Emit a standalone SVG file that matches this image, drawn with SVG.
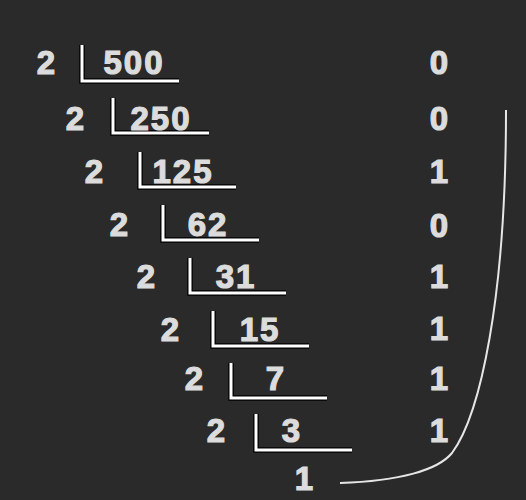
<svg xmlns="http://www.w3.org/2000/svg" width="526" height="500" viewBox="0 0 526 500">
<style>
.t{font-family:"Liberation Sans",Arial,sans-serif;font-weight:bold;font-size:33px;fill:#dcdcdc;stroke:#dcdcdc;stroke-width:1.2;text-anchor:middle;letter-spacing:2px}
.bo{fill:none;stroke:#000;stroke-width:5.5}
.bw{fill:none;stroke:#fff;stroke-width:3}
</style>
<rect width="526" height="500" fill="#2a2a2a"/>
<g id="row1"><text class="t" x="47" y="74">2</text><polyline class="bo" points="82,45 82,81 179,81"/><polyline class="bw" points="82,45 82,81 179,81"/><text class="t" x="134" y="74">500</text><text class="t" x="440" y="74">0</text></g>
<g id="row2"><text class="t" x="76" y="130">2</text><polyline class="bo" points="113,98 113,133 209,133"/><polyline class="bw" points="113,98 113,133 209,133"/><text class="t" x="161" y="130">250</text><text class="t" x="440" y="130">0</text></g>
<g id="row3"><text class="t" x="95" y="183">2</text><polyline class="bo" points="140,152 140,187 236,187"/><polyline class="bw" points="140,152 140,187 236,187"/><text class="t" x="183" y="183">125</text><text class="t" x="440" y="183">1</text></g>
<g id="row4"><text class="t" x="120" y="236">2</text><polyline class="bo" points="163,205 163,240 259,240"/><polyline class="bw" points="163,205 163,240 259,240"/><text class="t" x="208" y="236">62</text><text class="t" x="440" y="237">0</text></g>
<g id="row5"><text class="t" x="147" y="288">2</text><polyline class="bo" points="190,258 190,293 286,293"/><polyline class="bw" points="190,258 190,293 286,293"/><text class="t" x="236" y="288">31</text><text class="t" x="440" y="288">1</text></g>
<g id="row6"><text class="t" x="171" y="341">2</text><polyline class="bo" points="213,311 213,346 309,346"/><polyline class="bw" points="213,311 213,346 309,346"/><text class="t" x="260" y="341">15</text><text class="t" x="440" y="340">1</text></g>
<g id="row7"><text class="t" x="195" y="390">2</text><polyline class="bo" points="231,363 231,398 327,398"/><polyline class="bw" points="231,363 231,398 327,398"/><text class="t" x="276" y="390">7</text><text class="t" x="440" y="390">1</text></g>
<g id="row8"><text class="t" x="217" y="442">2</text><polyline class="bo" points="256,414 256,450 352,450"/><polyline class="bw" points="256,414 256,450 352,450"/><text class="t" x="292" y="442">3</text><text class="t" x="440" y="442">1</text></g>
<g id="last"><text class="t" x="305" y="490">1</text></g>
<g id="connectors"><path d="M340,483 C400,481 438,470 452,453 C480,415 506,300 506,110" fill="none" stroke="#e6e6e6" stroke-width="2"/></g>
</svg>
